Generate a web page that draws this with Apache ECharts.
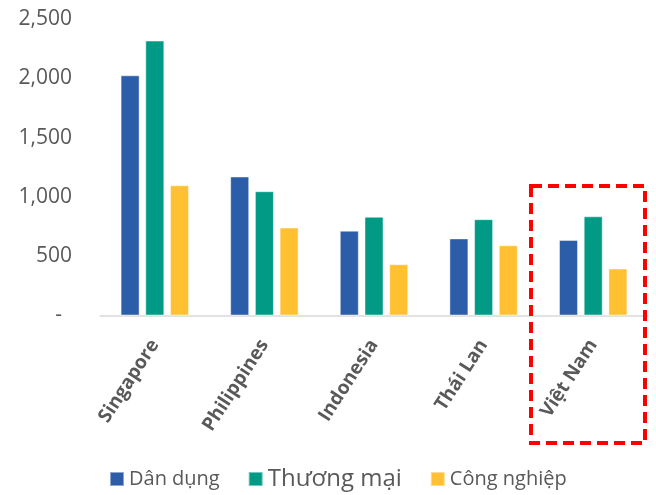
<!DOCTYPE html>
<html><head><meta charset="utf-8">
<script src="https://cdn.jsdelivr.net/npm/echarts@6/dist/echarts.min.js"></script>
<style>html,body{margin:0;padding:0;background:#fff}#c{width:656px;height:495px}</style>
</head><body><div id="c"></div>
<script>
const categories = ['Singapore', 'Philippines', 'Indonesia', 'Thái Lan', 'Việt Nam'];
const danDung = [2025, 1172, 715, 650, 637];
const thuongMai = [2318, 1048, 832, 812, 836];
const congNghiep = [1098, 741, 432, 592, 396];
const seriesNames = ['Dân dụng', 'Thương mại', 'Công nghiệp'];
const colors = ['#2C5DA9', '#009A85', '#FFC032'];

const chart = echarts.init(document.getElementById('c'), null, {renderer: 'canvas'});
const font = '"Open Sans", "Noto Sans", sans-serif';
const barBase = {type: 'bar', barWidth: 19, barGap: '30%',
  itemStyle: {borderColor: 'rgba(255,255,255,0.45)', borderWidth: 1}};
chart.setOption({
  animation: false,
  color: colors,
  textStyle: {fontFamily: font},
  grid: {left: 100, right: 8, top: 19, bottom: 179.5, containLabel: false},
  legend: {
    left: 104, top: 462, itemWidth: 14, itemHeight: 14, itemGap: 28,
    icon: 'rect',
    data: seriesNames,
    formatter: n => n === 'Thương mại' ? '{big|' + n + '}' : '{n|' + n + '}',
    textStyle: {color: '#595959', fontFamily: font,
      rich: {n: {fontSize: 20, color: '#595959', fontFamily: font},
             big: {fontSize: 24, color: '#595959', fontFamily: font}}}
  },
  xAxis: {
    type: 'category', data: categories,
    axisLine: {lineStyle: {color: '#D9D9D9', width: 1.5}},
    axisTick: {show: false},
    axisLabel: {rotate: 57, margin: 26, color: '#595959', fontSize: 19, fontWeight: 'bold', fontFamily: font, interval: 0}
  },
  yAxis: {
    type: 'value', min: 0, max: 2500, interval: 500,
    splitLine: {show: false}, axisLine: {show: false}, axisTick: {show: false},
    axisLabel: {margin: 28, color: '#595959', fontSize: 21, fontFamily: font,
      formatter: v => v === 0 ? '{d|-}' : v.toLocaleString('en-US'),
      rich: {d: {padding: [0, 10, 0, 0], fontSize: 21, color: '#595959', fontFamily: font}}}
  },
  series: [
    Object.assign({name: seriesNames[0], data: danDung}, barBase),
    Object.assign({name: seriesNames[1], data: thuongMai}, barBase),
    Object.assign({name: seriesNames[2], data: congNghiep}, barBase)
  ],
  graphic: [{
    type: 'rect', shape: {x: 531, y: 186, width: 114, height: 257},
    style: {fill: 'none', stroke: '#FF0000', lineWidth: 4, lineDash: [11, 6]}, z: 100
  }]
});
</script></body></html>
